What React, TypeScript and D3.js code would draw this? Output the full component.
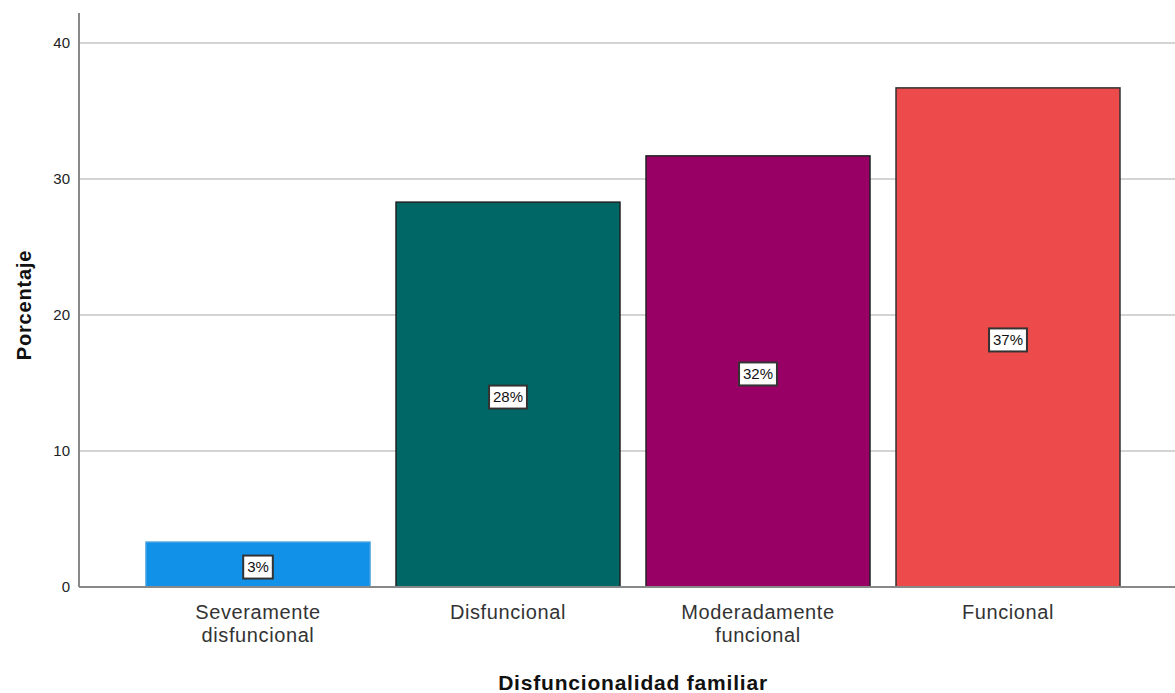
import React from "react";
import * as d3 from "d3";

const categories = ["Severamente\ndisfuncional", "Disfuncional", "Moderadamente\nfuncional", "Funcional"];
const values = [3.3, 28.3, 31.7, 36.7];
const labels = ["3%", "28%", "32%", "37%"];
const colors = ["#1192e8", "#006666", "#990066", "#ec4a4b"];
const strokes = ["#3fa0e0", "#222222", "#222222", "#333333"];
const yTicks = [0, 10, 20, 30, 40];

export default function App() {
  const W = 1175, H = 693;
  const left = 79, right = 1175, top = 13, bottom = 587;
  const y = d3.scaleLinear().domain([0, 40]).range([587, 43]);
  const x = d3.scaleBand().domain(categories).range([146, 1120]).paddingInner(0.104).paddingOuter(0);
  const font = "Arial, 'Liberation Sans', sans-serif";
  const labelW = (s: string) => s.split("").reduce((a, ch) => a + (ch === "%" ? 13.3 : 8.3), 0) + 8;
  return (
    <svg width={W} height={H} style={{ position: "absolute", left: 0, top: 0 }} fontFamily={font}>
      {yTicks.filter(t => t > 0).map(t => (
        <line key={t} x1={left} x2={right} y1={y(t)} y2={y(t)} stroke="#d4d4d4" strokeWidth={2} />
      ))}
      {categories.map((c, i) => {
        const x0 = x(c)!;
        const bw = x.bandwidth();
        const yt = y(values[i]);
        return (
          <rect key={c} x={x0} y={yt} width={bw} height={y(0) - yt} fill={colors[i]} stroke={strokes[i]} strokeWidth={1.5} />
        );
      })}
      <line x1={left} x2={left} y1={top} y2={bottom} stroke="#888" strokeWidth={2} />
      <line x1={left} x2={right} y1={bottom} y2={bottom} stroke="#888" strokeWidth={2} />
      {yTicks.map(t => (
        <text key={t} x={70} y={y(t)} dy="0.36em" textAnchor="end" fontSize={15} fill="#222">{t}</text>
      ))}
      {categories.map((c) => {
        const cx = x(c)! + x.bandwidth() / 2;
        const lines = c.split("\n");
        return (
          <text key={c} x={cx} y={619} textAnchor="middle" fontSize={20} letterSpacing={0.6} fill="#333">
            {lines.map((l, j) => (
              <tspan key={j} x={cx} dy={j === 0 ? 0 : 23}>{l}</tspan>
            ))}
          </text>
        );
      })}
      {categories.map((c, i) => {
        const cx = x(c)! + x.bandwidth() / 2;
        const mid = (y(values[i]) + y(0)) / 2 + 2.5;
        const w = labelW(labels[i]);
        return (
          <g key={"l" + c}>
            <rect x={cx - w / 2} y={mid - 11.5} width={w} height={23} fill="#fff" stroke="#333" strokeWidth={2} />
            <text x={cx} y={mid} dy="0.36em" textAnchor="middle" fontSize={15} fill="#111">{labels[i]}</text>
          </g>
        );
      })}
      <text x={633} y={690} textAnchor="middle" fontSize={21} fontWeight="bold" letterSpacing={0.8} fill="#111">Disfuncionalidad familiar</text>
      <text transform={`translate(31,305) rotate(-90)`} textAnchor="middle" fontSize={20} fontWeight="bold" letterSpacing={0.8} fill="#111">Porcentaje</text>
    </svg>
  );
}
